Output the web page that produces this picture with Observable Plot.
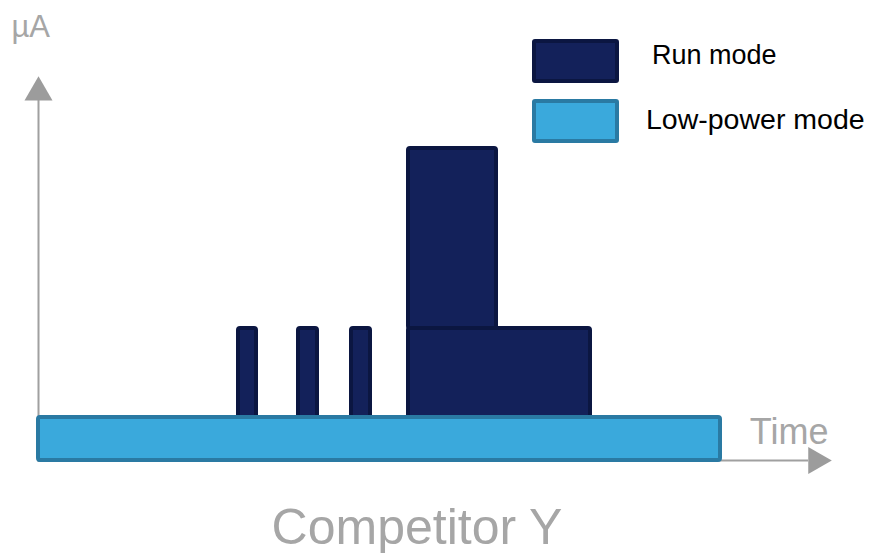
<!DOCTYPE html>
<html>
<head>
<meta charset="utf-8">
<script src="https://cdn.jsdelivr.net/npm/d3@7"></script>
<script src="https://cdn.jsdelivr.net/npm/@observablehq/plot@0.6"></script>
<style>
  html, body { margin: 0; padding: 0; background: #fff; }
  #wrap { position: relative; width: 871px; height: 553px; font-family: "Liberation Sans", Arial, sans-serif; }
  #wrap svg { position: absolute; left: 0; top: 0; }
  .sw { position: absolute; box-sizing: border-box; width: 87px; height: 44px; border-width: 4px; border-style: solid; border-radius: 3px; }
  .lt { position: absolute; color: #000; white-space: nowrap; line-height: 1; }
</style>
</head>
<body>
<div id="wrap"></div>
<script>
// Legend / series names
const modes = ["Run mode", "Low-power mode"];
const modeFill = ["#13215a", "#3aa9dc"];
const modeStroke = ["#0b1641", "#2a7aa3"];

// Run-mode bursts (time units, µA)
const runStart = [20.0, 26.0, 31.3, 37.0, 37.0];
const runEnd   = [21.8, 27.9, 33.2, 45.8, 55.2];
const runLow   = [4.3, 4.3, 4.3, 13.2, 4.3];
const runHigh  = [13.2, 13.2, 13.2, 31.2, 13.2];

// Low-power baseline
const lowStart = [0];
const lowEnd = [68.2];
const lowLevel = [4.3];

// Axis extents and labels
const yAxisEnd = 36.0;
const xAxisEnd = 77.0;
const yLabel = "µA";
const xLabel = "Time";
const title = "Competitor Y";

const runData = runStart.map((s, i) => ({x1: s, x2: runEnd[i], y1: runLow[i], y2: runHigh[i]}));
const lowData = lowStart.map((s, i) => ({x1: s, x2: lowEnd[i], y1: 0, y2: lowLevel[i]}));

const grey = "#a6a6a6";
const axisGrey = "#a0a0a0";

const chart = Plot.plot({
  width: 871,
  height: 553,
  margin: 0,
  style: {background: "transparent", fontFamily: "'Liberation Sans', Arial, sans-serif"},
  x: {domain: [0, 80], range: [38, 838], axis: null},
  y: {domain: [0, 40], range: [460, 60], axis: null},
  marks: [
    // axes
    Plot.ruleX([0], {y1: -0.2, y2: yAxisEnd, stroke: axisGrey, strokeWidth: 2}),
    Plot.ruleY([0], {x1: 0, x2: xAxisEnd, stroke: axisGrey, strokeWidth: 2}),
    Plot.dot([{x: 0, y: yAxisEnd + 0.8}], {x: "x", y: "y", symbol: "triangle", r: 10.4, fill: "#9c9c9c", stroke: "none"}),
    Plot.dot([{x: xAxisEnd + 0.76, y: 0}], {x: "x", y: "y", symbol: "triangle", r: 10.1, rotate: 90, fill: "#9c9c9c", stroke: "none"}),
    // run mode bars
    Plot.rect(runData, {x1: "x1", x2: "x2", y1: "y1", y2: "y2", fill: modeFill[0], stroke: modeStroke[0], strokeWidth: 4, rx: 2}),
    // low-power bar
    Plot.rect(lowData, {x1: "x1", x2: "x2", y1: "y1", y2: "y2", fill: modeFill[1], stroke: modeStroke[1], strokeWidth: 4, rx: 2}),
    // labels
    Plot.text([yLabel], {frameAnchor: "top-left", textAnchor: "start", lineAnchor: "top", dx: 11, dy: 14, fontSize: 31, fill: grey}),
    Plot.text([xLabel], {x: 79.0, y: 2.85, textAnchor: "end", fontSize: 36, fill: grey}),
    Plot.text([title], {frameAnchor: "bottom", dx: -19, dy: -10, fontSize: 50, fill: grey})
  ]
});

const wrap = document.getElementById("wrap");
wrap.appendChild(chart);

// legend
const swTops = [39, 99];
const textPos = [[652, 66.7], [646, 131]];
const textSize = [27, 28.5];
modes.forEach((m, i) => {
  const sw = document.createElement("div");
  sw.className = "sw";
  sw.style.left = "532px";
  sw.style.top = swTops[i] + "px";
  sw.style.background = modeFill[i];
  sw.style.borderColor = modeStroke[i];
  wrap.appendChild(sw);
  const t = document.createElement("div");
  t.className = "lt";
  t.textContent = m;
  t.style.fontSize = textSize[i] + "px";
  t.style.left = textPos[i][0] + "px";
  // place baseline: for line-height 1, baseline ≈ top + 0.905em (ascent) roughly
  t.style.top = (textPos[i][1] - 0.905 * textSize[i]) + "px";
  wrap.appendChild(t);
});
</script>
</body>
</html>
